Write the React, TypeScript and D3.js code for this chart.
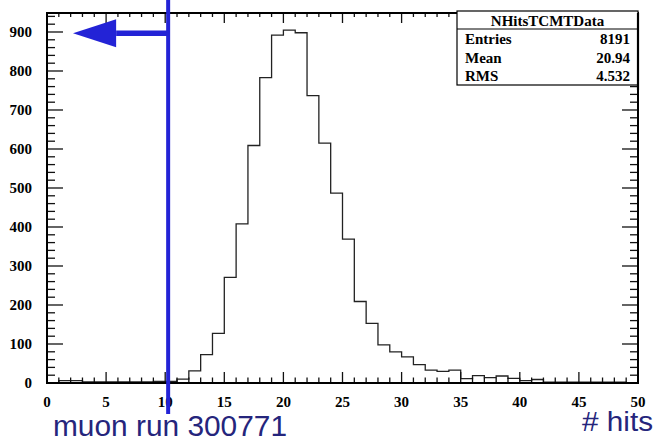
import React from "react";
import * as d3 from "d3";

// Histogram NHitsTCMTData: 50 bins of width 1 from 0 to 50
const binCounts: number[] = [
  0, 6, 6, 3, 3, 3, 3, 3, 3, 4,
  4, 10, 31, 73, 127, 271, 408, 609, 783, 892,
  905, 898, 737, 615, 487, 369, 209, 153, 98, 80,
  67, 47, 33, 30, 33, 11, 19, 14, 18, 12,
  6, 9, 2, 2, 2, 2, 2, 2, 2, 0,
];
const xTickLabels: number[] = [0, 5, 10, 15, 20, 25, 30, 35, 40, 45, 50];
const yTickLabels: number[] = [0, 100, 200, 300, 400, 500, 600, 700, 800, 900];
const statNames: string[] = ["Entries", "Mean", "RMS"];
const statValues: string[] = ["8191", "20.94", "4.532"];
const histTitle = "NHitsTCMTData";
const cutValue = 10.25;
const arrowTip = 2.2;
const arrowHeadBase = 5.85;
const arrowLevel = 897;

const W = 658;
const H = 440;
const M = { left: 47, right: 638, top: 13, bottom: 383 };

export default function App() {
  const x = d3.scaleLinear().domain([0, 50]).range([M.left, M.right]);
  const y = d3.scaleLinear().domain([0, 948.7]).range([M.bottom, M.top]);

  const pts: [number, number][] = [[0, 0]];
  binCounts.forEach((v, i) => pts.push([i, v]));
  pts.push([50, binCounts[binCounts.length - 1]]);
  pts.push([50, 0]);
  const line = d3
    .line<[number, number]>()
    .x((d) => x(d[0]))
    .y((d) => y(d[1]))
    .curve(d3.curveStepAfter);

  const minorX = d3.range(0, 51, 1);
  const minorY = d3.range(0, 941, 20);
  const serif = "'Liberation Serif', 'Times New Roman', serif";
  const sans = "'Liberation Sans', Arial, sans-serif";
  const blue = "#2323d6";
  const navy = "#25257c";

  const boxL = 457, boxR = 638, boxT = 11, boxB = 85, boxSep = 29;
  const rowsY = [44, 63, 81];

  return (
    <svg width={W} height={H} style={{ position: "absolute", left: 0, top: 0, background: "#fff" }}>
      <rect x={0} y={0} width={W} height={H} fill="#fff" />
      {/* histogram */}
      <path d={line(pts) || ""} fill="none" stroke="#222" strokeWidth={1.3} />
      {/* ticks bottom/top */}
      {minorX.map((v) => {
        const major = v % 5 === 0;
        return (
          <g key={"tx" + v}>
            <line x1={x(v)} x2={x(v)} y1={M.bottom} y2={M.bottom - (major ? 11 : 5.5)} stroke="#111" strokeWidth={1.3} />
            <line x1={x(v)} x2={x(v)} y1={M.top} y2={M.top + (major ? 10 : 4)} stroke="#111" strokeWidth={1.3} />
          </g>
        );
      })}
      {minorY.map((v) => {
        const major = v % 100 === 0;
        return (
          <g key={"ty" + v}>
            <line x1={M.left} x2={M.left + (major ? 16 : 8)} y1={y(v)} y2={y(v)} stroke="#111" strokeWidth={1.3} />
            <line x1={M.right} x2={M.right - (major ? 16 : 8)} y1={y(v)} y2={y(v)} stroke="#111" strokeWidth={1.3} />
          </g>
        );
      })}
      {/* frame */}
      <rect x={M.left} y={M.top} width={M.right - M.left} height={M.bottom - M.top} fill="none" stroke="#000" strokeWidth={2} />
      {/* tick labels */}
      {xTickLabels.map((v) => (
        <text key={"xl" + v} x={x(v)} y={407} textAnchor="middle" fontFamily={serif} fontWeight="bold" fontSize={15} fill="#000">
          {v}
        </text>
      ))}
      {yTickLabels.map((v) => (
        <text key={"yl" + v} x={32} y={y(v) + 5} textAnchor="end" fontFamily={serif} fontWeight="bold" fontSize={15} fill="#000">
          {v}
        </text>
      ))}
      {/* stats box */}
      <rect x={boxL} y={boxT} width={boxR - boxL} height={boxB - boxT} fill="#fff" stroke="#000" strokeWidth={1.2} />
      <line x1={boxR} x2={boxR} y1={boxT + 2} y2={boxB + 5} stroke="#000" strokeWidth={2.2} />
      <line x1={boxL} x2={boxR} y1={boxSep} y2={boxSep} stroke="#000" strokeWidth={1} />
      <text x={(boxL + boxR) / 2} y={26} textAnchor="middle" fontFamily={serif} fontWeight="bold" fontSize={15}>
        {histTitle}
      </text>
      {statNames.map((n, i) => (
        <g key={n}>
          <text x={465} y={rowsY[i]} fontFamily={serif} fontWeight="bold" fontSize={15}>{n}</text>
          <text x={630} y={rowsY[i]} textAnchor="end" fontFamily={serif} fontWeight="bold" fontSize={15}>{statValues[i]}</text>
        </g>
      ))}
      {/* cut annotation */}
      <line x1={x(cutValue)} x2={x(cutValue)} y1={0} y2={414} stroke={blue} strokeWidth={4} />
      <line x1={x(cutValue)} x2={x(arrowHeadBase)} y1={y(arrowLevel)} y2={y(arrowLevel)} stroke={blue} strokeWidth={5.5} />
      <path
        d={`M${x(arrowTip)},${y(arrowLevel)} L${x(arrowHeadBase)},${y(arrowLevel) - 14} L${x(arrowHeadBase)},${y(arrowLevel) + 14} Z`}
        fill={blue}
      />
      {/* labels */}
      <text x={53} y={436} fontFamily={sans} fontSize={29} fill={navy} textLength={234} lengthAdjust="spacingAndGlyphs">
        muon run 300771
      </text>
      <text x={582} y={431} fontFamily={sans} fontSize={27} fill={navy} textLength={71} lengthAdjust="spacingAndGlyphs">
        # hits
      </text>
    </svg>
  );
}
